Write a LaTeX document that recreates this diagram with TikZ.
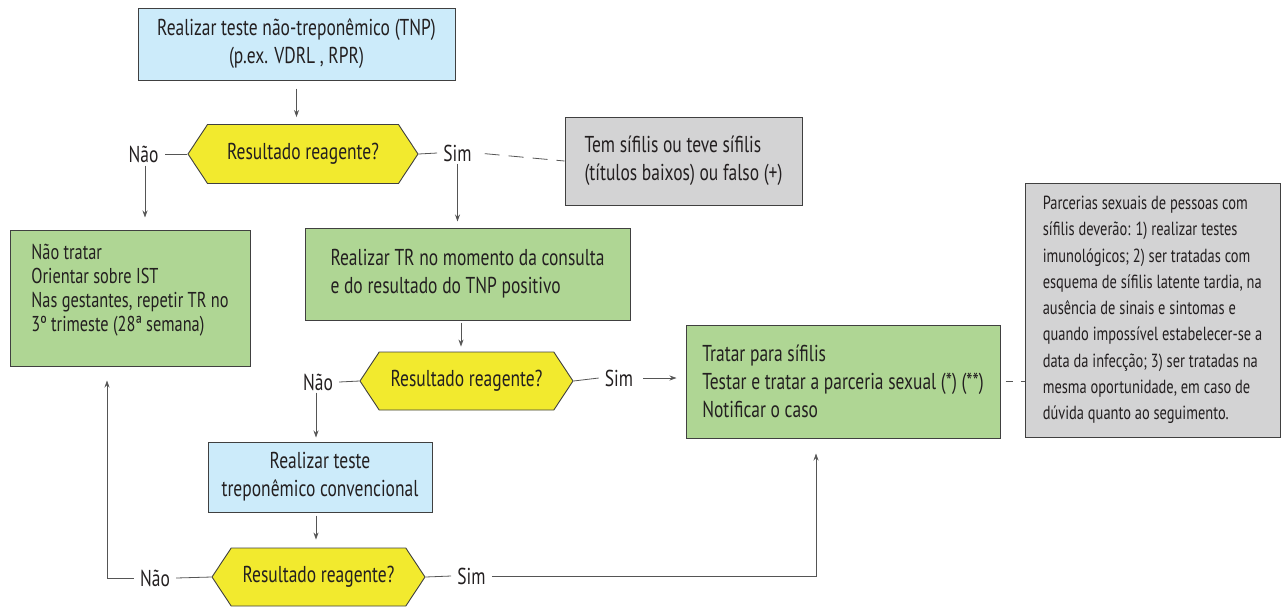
\documentclass[tikz,border=0pt]{standalone}
\usepackage{fontspec}
\setmainfont{PT Sans}[FakeStretch=0.76]
\usetikzlibrary{shapes.symbols,arrows.meta}
\definecolor{azulclaro}{HTML}{CCEBFA}
\definecolor{verde}{HTML}{AFD694}
\definecolor{amarelo}{HTML}{F2EA2E}
\definecolor{cinza}{HTML}{D3D3D4}
\definecolor{borda}{HTML}{404040}
\definecolor{linha}{HTML}{555555}
\definecolor{texto}{HTML}{231F20}
\tikzset{
  caixa/.style={draw=borda, line width=1pt, align=left, inner sep=0pt, text=texto,
    font=\fontsize{23}{28}\selectfont},
  pergunta/.style={signal, signal to=west and east, signal pointer angle=113,
    draw=borda, fill=amarelo, line width=0.9pt, minimum width=230, minimum height=59,
    inner sep=0pt, text=texto, font=\fontsize{23}{24}\selectfont},
  resposta/.style={inner xsep=6pt, inner ysep=2pt, text=texto, font=\fontsize{23}{24}\selectfont},
  seta/.style={-{Stealth[length=7pt,width=5pt]}, draw=linha, line width=0.8pt},
  ligacao/.style={draw=linha, line width=0.8pt},
}
\begin{document}
\begin{tikzpicture}[x=1pt,y=-1pt]
	\useasboundingbox (0,0) rectangle (1285,606);
	% caixas
	\node[caixa, fill=azulclaro, align=center, minimum width=317, minimum height=72] (tnp) at (296.5,44) {Realizar teste não-treponêmico (TNP)\\(p.ex. VDRL , RPR)};
	\node[caixa, fill=cinza, minimum width=237, minimum height=88] (tem) at (683.5,161) {Tem sífilis ou teve sífilis\\(títulos baixos) ou falso (+)};
	\node[caixa, fill=verde, minimum width=240, minimum height=136, text depth=20pt, font=\fontsize{21.5}{24}\selectfont] (naotratar) at (130,298) {Não tratar\\Orientar sobre IST\\Nas gestantes, repetir TR no\\3º trimeste (28ª semana)};
	\node[caixa, fill=verde, minimum width=325, minimum height=92] (tr) at (467.5,274) {Realizar TR no momento da consulta\\e do resultado do TNP positivo};
	\node[caixa, fill=verde, minimum width=314, minimum height=113] (tratar) at (843,381.5) {Tratar para sífilis\\Testar e tratar a parceria sexual (*) (**)\\Notificar o caso};
	\node[caixa, fill=cinza, minimum width=255, minimum height=254, font=\fontsize{19}{26.25}\selectfont] (parcerias) at (1152.5,310) {Parcerias sexuais de pessoas com\\sífilis deverão: 1) realizar testes\\imunológicos; 2) ser tratadas com\\esquema de sífilis latente tardia, na\\ausência de sinais e sintomas e\\quando impossível estabelecer-se a\\data da infecção; 3) ser tratadas na\\mesma oportunidade, em caso de\\dúvida quanto ao seguimento.};
	\node[caixa, fill=azulclaro, align=center, minimum width=224, minimum height=70] (conv) at (320,477) {Realizar teste\\treponêmico convencional};
	% perguntas
	\node[pergunta] (q1) at (303,154) {Resultado reagente?};
	\node[pergunta, minimum width=213, minimum height=58] (q2) at (466.5,381) {Resultado reagente?};
	\node[pergunta, minimum width=213, minimum height=58] (q3) at (318.5,577) {Resultado reagente?};
	% respostas
	\node[resposta] (nao1) at (143.5,154) {Não};
	\node[resposta] (sim1) at (457.5,153) {Sim};
	\node[resposta] (nao2) at (318,382) {Não};
	\node[resposta] (sim2) at (619,378) {Sim};
	\node[resposta] (nao3) at (155,578) {Não};
	\node[resposta] (sim3) at (471.5,576) {Sim};
	% ligacoes
	\draw[seta, shorten <=8pt, shorten >=7pt] (tnp.south) -- (tnp.south |- q1.north);
	\draw[ligacao] (q1.west) -- (nao1.east);
	\draw[ligacao] (q1.east) -- (sim1.west);
	\draw[ligacao, dash pattern=on 15pt off 9pt, dash phase=17pt] (sim1.east) -- (tem.west);
	\draw[seta, shorten <=1pt, shorten >=12pt] (nao1.south -| 145,0) -- (naotratar.north -| 145,0);
	\draw[seta, shorten >=6pt] (sim1.south) -- (sim1.south |- tr.north);
	\draw[seta, shorten <=2pt, shorten >=5pt] (tr.south -| 461,0) -- (q2.north -| 461,0);
	\draw[ligacao] (q2.west) -- (nao2.east);
	\draw[ligacao] (q2.east) -- (sim2.west);
	\draw[seta, shorten <=4pt, shorten >=9pt] (sim2.east) -- (tratar.west |- sim2.east);
	\draw[ligacao, dash pattern=on 7pt off 8pt, dash phase=-5pt] (tratar.east) -- (parcerias.west |- tratar.east);
	\draw[seta, shorten >=4pt] (nao2.south -| 316,0) -- (conv.north -| 316,0);
	\draw[seta, shorten <=3pt, shorten >=8pt] (conv.south -| 316,0) -- (q3.north -| 316,0);
	\draw[ligacao] (q3.west) -- (nao3.east);
	\draw[seta, shorten >=14pt] (nao3.west) -| ([xshift=-23pt]naotratar.south);
	\draw[ligacao] (q3.east) -- (sim3.west);
	\draw[seta, shorten >=15pt] (sim3.east) -| ([xshift=-27pt]tratar.south);
\end{tikzpicture}
\end{document}
